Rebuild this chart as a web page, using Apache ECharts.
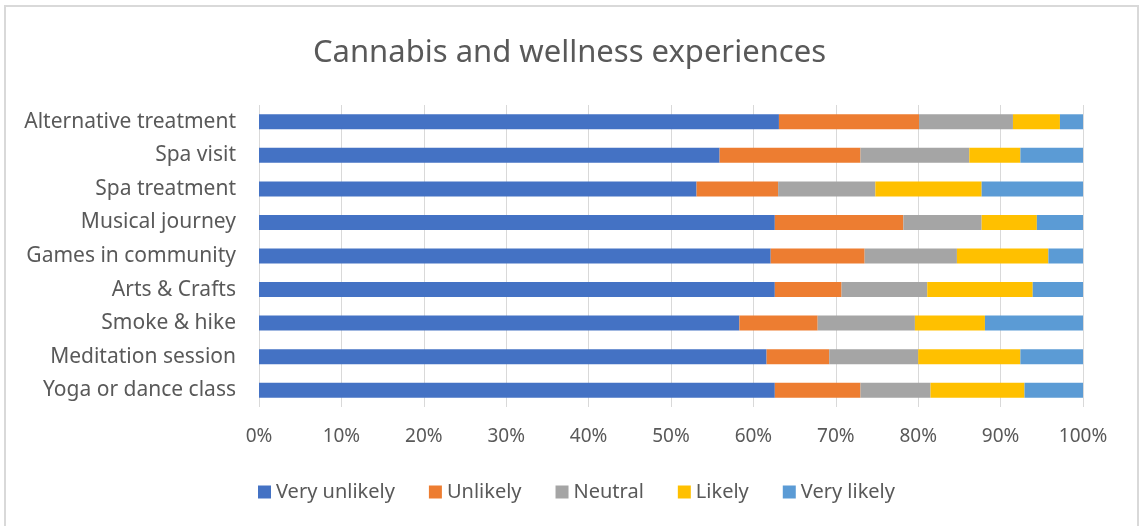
<!DOCTYPE html>
<html>
<head>
<meta charset="utf-8">
<script src="https://cdn.jsdelivr.net/npm/echarts@6/dist/echarts.min.js"></script>
<style>
  html, body { margin: 0; padding: 0; background: #fff; }
  #chart { width: 1139px; height: 526px; }
</style>
</head>
<body>
<div id="chart"></div>
<script>
// Survey categories, top to bottom
const categories = [
  'Alternative treatment', 'Spa visit', 'Spa treatment', 'Musical journey',
  'Games in community', 'Arts & Crafts', 'Smoke & hike', 'Meditation session',
  'Yoga or dance class'
];

// Share of responses per answer (percent), same order as categories
const veryUnlikely = [63.1, 55.9, 53.1, 62.6, 62.1, 62.6, 58.3, 61.6, 62.6];
const unlikely     = [17.0, 17.1,  9.9, 15.6, 11.4,  8.1,  9.5,  7.6, 10.4];
const neutral      = [11.4, 13.2, 11.8,  9.5, 11.2, 10.4, 11.8, 10.8,  8.5];
const likely       = [ 5.7,  6.2, 12.9,  6.7, 11.1, 12.8,  8.5, 12.4, 11.4];
const veryLikely   = [ 2.8,  7.6, 12.3,  5.6,  4.2,  6.1, 11.9,  7.6,  7.1];

const seriesNames = ['Very unlikely', 'Unlikely', 'Neutral', 'Likely', 'Very likely'];
const seriesValues = [veryUnlikely, unlikely, neutral, likely, veryLikely];
const colors = ['#4472C4', '#ED7D31', '#A5A5A5', '#FFC000', '#5B9BD5'];

const FONT = 'Noto Sans';
const TEXT = '#595959';

const chart = echarts.init(document.getElementById('chart'));
chart.setOption({
  animation: false,
  color: colors,
  title: {
    text: 'Cannabis and wellness experiences',
    left: 'center',
    top: 33,
    textStyle: { fontFamily: FONT, fontSize: 31, fontWeight: 'normal', color: TEXT }
  },
  graphic: [{
    type: 'rect',
    shape: { x: 5, y: 6, width: 1133, height: 540 },
    style: { fill: 'none', stroke: '#D9D9D9', lineWidth: 2 },
    silent: true
  }],
  legend: {
    data: seriesNames,
    left: 253,
    top: 477,
    itemWidth: 13,
    itemHeight: 13,
    itemGap: 34,
    icon: 'rect',
    textStyle: { fontFamily: FONT, fontSize: 20, color: TEXT }
  },
  grid: { left: 259, right: 56, top: 105, bottom: 119, containLabel: false },
  xAxis: {
    type: 'value',
    min: 0,
    max: 100,
    interval: 10,
    axisLine: { show: false },
    axisTick: { show: false },
    axisLabel: {
      formatter: '{value}%',
      margin: 20,
      fontFamily: FONT, fontSize: 19, color: TEXT
    },
    splitLine: { lineStyle: { color: '#D9D9D9', width: 1 } }
  },
  yAxis: {
    type: 'category',
    data: categories,
    inverse: true,
    axisLine: { show: false },
    axisTick: { show: false },
    axisLabel: { margin: 23, fontFamily: FONT, fontSize: 21, color: TEXT }
  },
  series: seriesNames.map((name, i) => ({
    name,
    type: 'bar',
    stack: 'total',
    barWidth: 15,
    data: seriesValues[i]
  }))
});
</script>
</body>
</html>
